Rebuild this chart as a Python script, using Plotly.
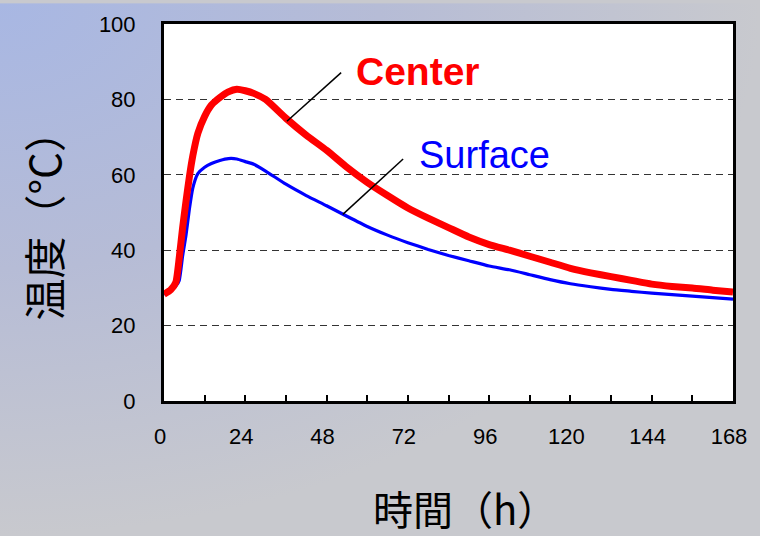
import base64
import plotly.graph_objects as go

# ---------------- data ----------------
hours = [0, 2, 3.5, 4.5, 5.5, 6.5, 7.5, 8.5, 10, 12, 14, 16.5, 19, 21.5, 24, 26.5, 30,
         36, 42, 48, 54, 60, 66, 72, 78, 84, 90, 96, 102, 108, 114, 120, 126, 132,
         138, 144, 150, 156, 162, 168]
center_temp = [28.3, 29.5, 31.5, 38, 46, 53, 59.5, 65, 71, 75.5, 78.5, 80.5, 82, 82.7,
               82.3, 81.6, 80, 75, 70.5, 66.5, 62, 58, 54.5, 51.2, 48.5, 46, 43.5, 41.5,
               40, 38.4, 36.8, 35.2, 34, 33, 32, 31, 30.4, 30, 29.4, 28.9]
surface_temp = [28.3, 29.5, 30.5, 32, 38.5, 44, 51, 56.5, 60.3, 62, 63, 63.8, 64.3, 64.2,
                63.5, 62.8, 61, 57.5, 54.5, 51.8, 49, 46.3, 44, 42, 40.2, 38.6, 37.2, 35.8,
                34.8, 33.5, 32.2, 31.1, 30.3, 29.6, 29.1, 28.6, 28.2, 27.8, 27.4, 27.0]
x_ticks = [0, 24, 48, 72, 96, 120, 144, 168]
y_ticks = [0, 20, 40, 60, 80, 100]
series_names = ["Center", "Surface"]
x_title = "時間（h）"
y_title = "温度（°C）"
# leader lines and label anchors (data coords)
center_leader = [(36.3, 74.2), (52.3, 87.1)]
surface_leader = [(52.8, 49.5), (70.6, 64.2)]
center_label_pos = (56.2, 87.3)
surface_label_pos = (74.6, 65.2)

# ---------------- layout geometry ----------------
W, H = 760, 536
L, R, T, B = 164, 27, 21, 135
pw, ph = W - L - R, H - T - B

def px_to_paper(px, py):
    return (px - L) / pw, (H - B - py) / ph

# background gradient image (svg data uri)
svg = (
    '<svg xmlns="http://www.w3.org/2000/svg" width="760" height="536" viewBox="0 0 760 536" '
    'preserveAspectRatio="none"><defs><radialGradient id="g" cx="0" cy="0" r="1" '
    'gradientUnits="objectBoundingBox"><stop offset="0" stop-color="#A8B7E3"/>'
    '<stop offset="0.5" stop-color="#B6BCD6"/><stop offset="1" stop-color="#C8C9CE"/>'
    '</radialGradient></defs><rect width="760" height="536" fill="url(#g)"/></svg>'
)
svg_uri = "data:image/svg+xml;base64," + base64.b64encode(svg.encode()).decode()

fig = go.Figure()
fig.add_trace(go.Scatter(x=hours, y=surface_temp, mode="lines", name=series_names[1],
                         line=dict(color="#0000FF", width=3.2, shape="spline", smoothing=0.5)))
fig.add_trace(go.Scatter(x=hours, y=center_temp, mode="lines", name=series_names[0],
                         line=dict(color="#FF0000", width=7, shape="spline", smoothing=0.5)))

# leader lines
for (p0, p1) in [center_leader, surface_leader]:
    fig.add_shape(type="line", x0=p0[0], y0=p0[1], x1=p1[0], y1=p1[1],
                  xref="x", yref="y", line=dict(color="black", width=1.5))

# white plot area over background image
fig.add_shape(type="rect", xref="paper", yref="paper", x0=0, y0=0, x1=1, y1=1,
              fillcolor="white", line=dict(width=0), layer="below")

x0p, y0p = px_to_paper(0, 0)
fig.add_layout_image(dict(source=svg_uri, xref="paper", yref="paper", x=x0p, y=y0p,
                          sizex=W / pw, sizey=H / ph, sizing="stretch",
                          xanchor="left", yanchor="top", layer="below"))

annos = []
annos.append(dict(x=center_label_pos[0], y=center_label_pos[1], xref="x", yref="y",
                  text="<b>" + series_names[0] + "</b>", showarrow=False, xanchor="left",
                  yanchor="middle",
                  font=dict(family="Liberation Sans, Arial, sans-serif", size=39, color="#FF0000")))
annos.append(dict(x=surface_label_pos[0], y=surface_label_pos[1], xref="x", yref="y",
                  text=series_names[1], showarrow=False, xanchor="left", yanchor="middle",
                  font=dict(family="Liberation Sans, Arial, sans-serif", size=38, color="#0000FF")))
xt = px_to_paper(465, 509)
annos.append(dict(x=xt[0], y=xt[1], xref="paper", yref="paper", text=x_title,
                  showarrow=False, xanchor="center", yanchor="middle",
                  font=dict(family="Noto Sans CJK JP", size=40, color="black")))
yt = px_to_paper(42, 214)
annos.append(dict(x=yt[0], y=yt[1], xref="paper", yref="paper", text=y_title,
                  showarrow=False, xanchor="center", yanchor="middle", textangle=-90,
                  font=dict(family="Noto Sans CJK JP", size=42, color="black")))

tick_font = dict(family="Liberation Sans Narrow, Arial Narrow, Liberation Sans, sans-serif",
                 size=22, color="black")

fig.update_layout(
    width=W, height=H,
    margin=dict(l=L, r=R, t=T, b=B, pad=0),
    paper_bgcolor="#C8C9CE",
    plot_bgcolor="white",
    showlegend=False,
    annotations=annos,
    xaxis=dict(range=[0, 168], tickvals=x_ticks, ticktext=[str(v) for v in x_ticks],
               ticks="inside", ticklen=6, tickwidth=2, tickcolor="black",
               minor=dict(dtick=12, tick0=0, ticks="inside", ticklen=6, tickwidth=2,
                          tickcolor="black", showgrid=False),
               showgrid=False, zeroline=False, showline=True, linecolor="black",
               linewidth=3, mirror=True, tickfont=tick_font, ticklabelstandoff=14,
               ticklabelshift=-4),
    yaxis=dict(range=[0, 100], tickvals=y_ticks, ticktext=[str(v) for v in y_ticks],
               ticks="", showgrid=True, gridcolor="#333333", gridwidth=1,
               griddash="7px,5px", zeroline=False, showline=True, linecolor="black",
               linewidth=3, mirror=True, tickfont=tick_font, ticklabelstandoff=21),
)

fig.write_html("out.html", config={"displayModeBar": False},
               post_script="document.body.style.margin='0';document.body.style.padding='0';")
